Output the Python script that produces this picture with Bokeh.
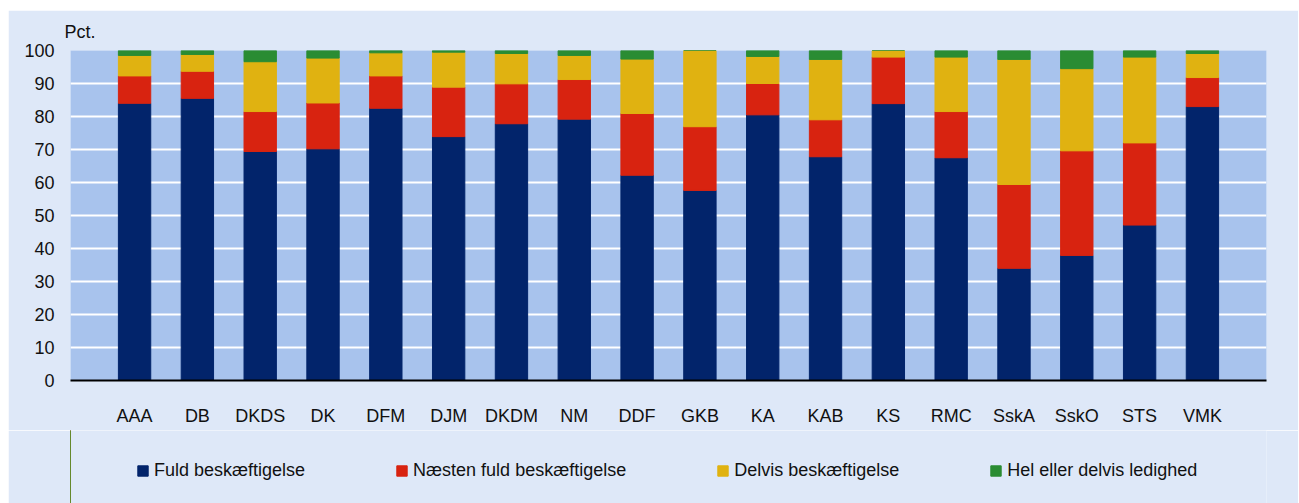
from bokeh.plotting import figure
from bokeh.models import (ColumnDataSource, Range1d, FixedTicker, Legend, LegendItem, Title)
from bokeh.layouts import column
from bokeh.embed import file_html
from bokeh.resources import INLINE

categories = ["AAA", "DB", "DKDS", "DK", "DFM", "DJM", "DKDM", "NM", "DDF", "GKB",
              "KA", "KAB", "KS", "RMC", "SskA", "SskO", "STS", "VMK"]
fuld = [84.0, 85.5, 69.4, 70.2, 82.5, 73.9, 77.8, 79.2, 62.2, 57.6,
        80.5, 67.8, 83.9, 67.5, 34.0, 37.9, 47.1, 83.0]
naesten = [8.3, 8.2, 12.1, 13.9, 9.8, 15.0, 12.1, 12.0, 18.7, 19.3,
           9.5, 11.2, 14.1, 14.0, 25.4, 31.7, 24.9, 8.8]
delvis = [6.2, 5.1, 15.1, 13.6, 7.0, 10.6, 9.2, 7.3, 16.5, 23.1,
          8.2, 18.3, 2.0, 16.5, 37.9, 24.9, 26.0, 7.3]
ledig = [1.5, 1.2, 3.4, 2.3, 0.7, 0.5, 0.9, 1.5, 2.6, 0.0,
         1.8, 2.7, 0.0, 2.0, 2.7, 5.5, 2.0, 0.9]
series_names = ["Fuld beskæftigelse", "Næsten fuld beskæftigelse",
                "Delvis beskæftigelse", "Hel eller delvis ledighed"]
y_ticks = list(range(0, 101, 10))

colors = ["#02246B", "#D82310", "#E0B211", "#2A8C33"]
OUTER_BG = "#DEE8F8"
FONT = "Liberation Sans"
FS = "18px"

source = ColumnDataSource(dict(x=list(range(len(categories))), fuld=fuld,
                               naesten=naesten, delvis=delvis, ledig=ledig))

p = figure(frame_width=1196, frame_height=330, output_backend="svg", toolbar_location=None,
           x_range=Range1d(-1.02, len(categories) - 1 + 1.02), y_range=Range1d(0, 100),
           min_border_left=62, min_border_right=32, min_border_top=37,
           min_border_bottom=50)
p.margin = (10, 0, 0, 8)
p.background_fill_color = "#A8C3ED"
p.border_fill_color = OUTER_BG
p.outline_line_color = None

rs = p.vbar_stack(["fuld", "naesten", "delvis", "ledig"], x="x", width=0.515,
                  color=colors, source=source)

p.xgrid.grid_line_color = None
p.ygrid.grid_line_color = "white"
p.ygrid.grid_line_width = 2
p.ygrid.ticker = FixedTicker(ticks=y_ticks)

p.xaxis.ticker = FixedTicker(ticks=list(range(len(categories))))
p.xaxis.major_label_overrides = {i: c for i, c in enumerate(categories)}
p.xaxis.major_tick_line_color = None
p.xaxis.minor_tick_line_color = None
p.xaxis.axis_line_color = "black"
p.xaxis.axis_line_width = 2
p.xaxis.major_label_standoff = 19
p.xaxis.major_label_text_font = FONT
p.xaxis.major_label_text_font_size = FS
p.xaxis.major_label_text_color = "#111111"

p.yaxis.ticker = FixedTicker(ticks=y_ticks)
p.yaxis.major_tick_line_color = None
p.yaxis.minor_tick_line_color = None
p.yaxis.axis_line_color = None
p.yaxis.major_label_standoff = 10
p.yaxis.major_label_text_font = FONT
p.yaxis.major_label_text_font_size = FS
p.yaxis.major_label_text_color = "#111111"

p.add_layout(Title(text="Pct.", align="left", offset=-6, standoff=18, text_font=FONT,
                   text_font_size=FS, text_font_style="normal", text_color="#111111"),
             "above")

# legend strip below the chart (hidden proxy bars outside the visible range)
p2 = figure(width=1290, height=73, output_backend="svg", toolbar_location=None,
            x_range=Range1d(0, 1), y_range=Range1d(0, 1),
            x_axis_type=None, y_axis_type=None,
            min_border_left=0, min_border_right=0, min_border_top=0, min_border_bottom=0)
p2.margin = (0, 0, 0, 8)
p2.background_fill_color = OUTER_BG
p2.border_fill_color = OUTER_BG
p2.outline_line_color = None
p2.grid.grid_line_color = None
proxy = ColumnDataSource(dict(x=[-10], top=[1]))
dummies = [p2.vbar(x="x", top="top", width=0.5, color=c, source=proxy) for c in colors]

legend = Legend(items=[LegendItem(label=n, renderers=[r]) for n, r in zip(series_names, dummies)],
                orientation="horizontal", location=(66, 22),
                label_text_font=FONT, label_text_font_size=FS, label_text_color="#111111",
                glyph_width=13, glyph_height=13, label_standoff=5, spacing=90,
                background_fill_alpha=0, border_line_color=None, margin=0, padding=0)
p2.add_layout(legend, "center")

layout = column(p, p2, spacing=0)
open("out.html", "w").write(file_html(layout, INLINE))
